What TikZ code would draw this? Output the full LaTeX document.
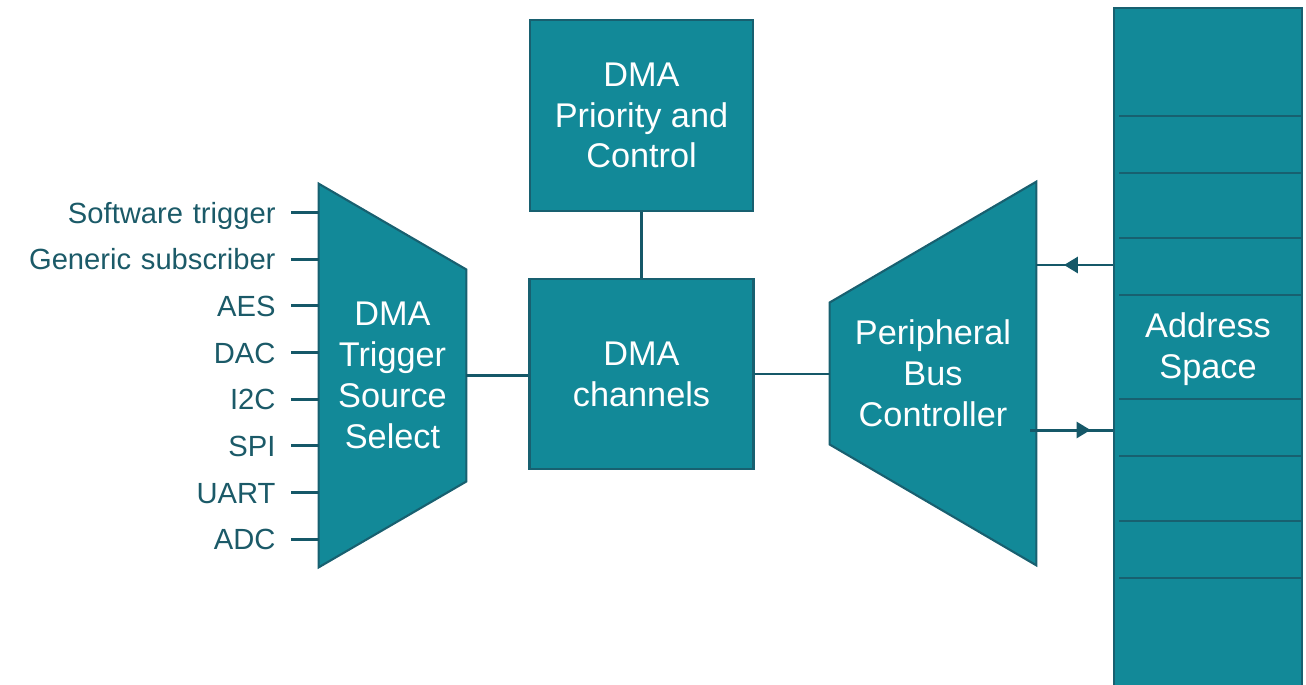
\documentclass[tikz,border=0pt]{standalone}
\usepackage{fontspec}
\setmainfont{Liberation Sans}
\definecolor{dmafill}{RGB}{18,137,152}
\definecolor{dmaedge}{RGB}{24,96,112}
\definecolor{dmaline}{RGB}{21,88,104}
\definecolor{dmatext}{RGB}{27,90,104}
\usetikzlibrary{positioning,calc,arrows.meta,decorations.markings,backgrounds}

\begin{document}
\begin{tikzpicture}[
    block/.style={draw=dmaedge,line width=1.2pt,fill=dmafill,text=white,
      font=\fontsize{19.5}{23.2}\selectfont,align=center,inner sep=0pt},
    hull/.style={inner sep=0pt,text=white,
      font=\fontsize{19.5}{23.2}\selectfont,align=center},
    shell/.style={draw=dmaedge,line width=1.2pt,fill=dmafill,line join=miter},
    src/.style={text=dmatext,font=\fontsize{16.6}{20}\selectfont,
      text width=5.6cm,align=right,inner sep=0pt,text height=11.9pt,text depth=0pt},
    cell/.style={draw=dmaedge,line width=1.1pt},
    wire/.style={draw=dmaline,line width=1.7pt},
    bus/.style={wire,postaction={decorate},decoration={markings,
      mark=at position #1 with {\arrow[dmaline]{Triangle[length=0.28cm,width=0.32cm]}}}},
    node distance=0.9333cm
    ]
    \useasboundingbox (0,0) rectangle (26.12,-13.68);

    % sources
    \node (in1) [src] at (2.71,-4.253) {Software trigger};
    \node (in2) [src,below of=in1] {Generic subscriber};
    \node (in3) [src,below of=in2] {AES};
    \node (in4) [src,below of=in3] {DAC};
    \node (in5) [src,below of=in4] {I2C};
    \node (in6) [src,below of=in5] {SPI};
    \node (in7) [src,below of=in6] {UART};
    \node (in8) [src,below of=in7] {ADC};

    % blocks
    \node (tss) [hull,minimum width=2.94cm,minimum height=7.66cm] at (7.85,-7.51) {DMA\\Trigger\\Source\\Select};
    \node (pri) [block,minimum width=4.46cm,minimum height=3.82cm] at (12.83,-2.31) {DMA\\Priority and\\Control};
    \node (chan) [block,minimum width=4.48cm,minimum height=3.80cm,below of=pri,node distance=5.17cm] {DMA\\channels};
    \node (pbc) [hull,minimum width=4.12cm,minimum height=7.66cm] at (18.66,-7.47) {Peripheral\\Bus\\Controller};
    \node (addr) [block,minimum width=3.76cm,minimum height=13.64cm] at (24.16,-6.98) {Address\\Space};
    \coordinate (wr) at (20.60,-8.60);

    \begin{scope}[on background layer]
      \draw[shell] (tss.north west) -- ($(tss.east)+(0,2.12)$) -- ($(tss.east)+(0,-2.12)$) -- (tss.south west) -- cycle;
      \draw[shell] ($(pbc.west)+(0,1.42)$) -- (pbc.north east) -- (pbc.south east) -- ($(pbc.west)+(0,-1.42)$) -- cycle;
    \end{scope}

    % address cells
    \draw[cell] (22.38,-2.32) -- (26.04,-2.32);
    \draw[cell] (22.38,-3.46) -- (26.04,-3.46);
    \draw[cell] (22.38,-4.76) -- (26.04,-4.76);
    \draw[cell] (22.38,-5.90) -- (26.04,-5.90);
    \draw[cell] (22.38,-7.98) -- (26.04,-7.98);
    \draw[cell] (22.38,-9.12) -- (26.04,-9.12);
    \draw[cell] (22.38,-10.42) -- (26.04,-10.42);
    \draw[cell] (22.38,-11.56) -- (26.04,-11.56);

    % the edges
    \draw[wire] ([xshift=0.31cm]in1.east) -- (in1.east -| tss.west);
    \draw[wire] ([xshift=0.31cm]in2.east) -- (in2.east -| tss.west);
    \draw[wire] ([xshift=0.31cm]in3.east) -- (in3.east -| tss.west);
    \draw[wire] ([xshift=0.31cm]in4.east) -- (in4.east -| tss.west);
    \draw[wire] ([xshift=0.31cm]in5.east) -- (in5.east -| tss.west);
    \draw[wire] ([xshift=0.31cm]in6.east) -- (in6.east -| tss.west);
    \draw[wire] ([xshift=0.31cm]in7.east) -- (in7.east -| tss.west);
    \draw[wire] ([xshift=0.31cm]in8.east) -- (in8.east -| tss.west);
    \draw[wire] (pri) -- (chan);
    \draw[wire] (tss.east) -- (tss.east -| chan.west);
    \draw[wire] (chan.east) -- (chan.east -| pbc.west);
    \draw[bus=0.64] (addr.west |- 0,-5.30) -- (pbc.east |- 0,-5.30);
    \draw[bus=0.73] (wr) -- (wr -| addr.west);
\end{tikzpicture}
\end{document}
